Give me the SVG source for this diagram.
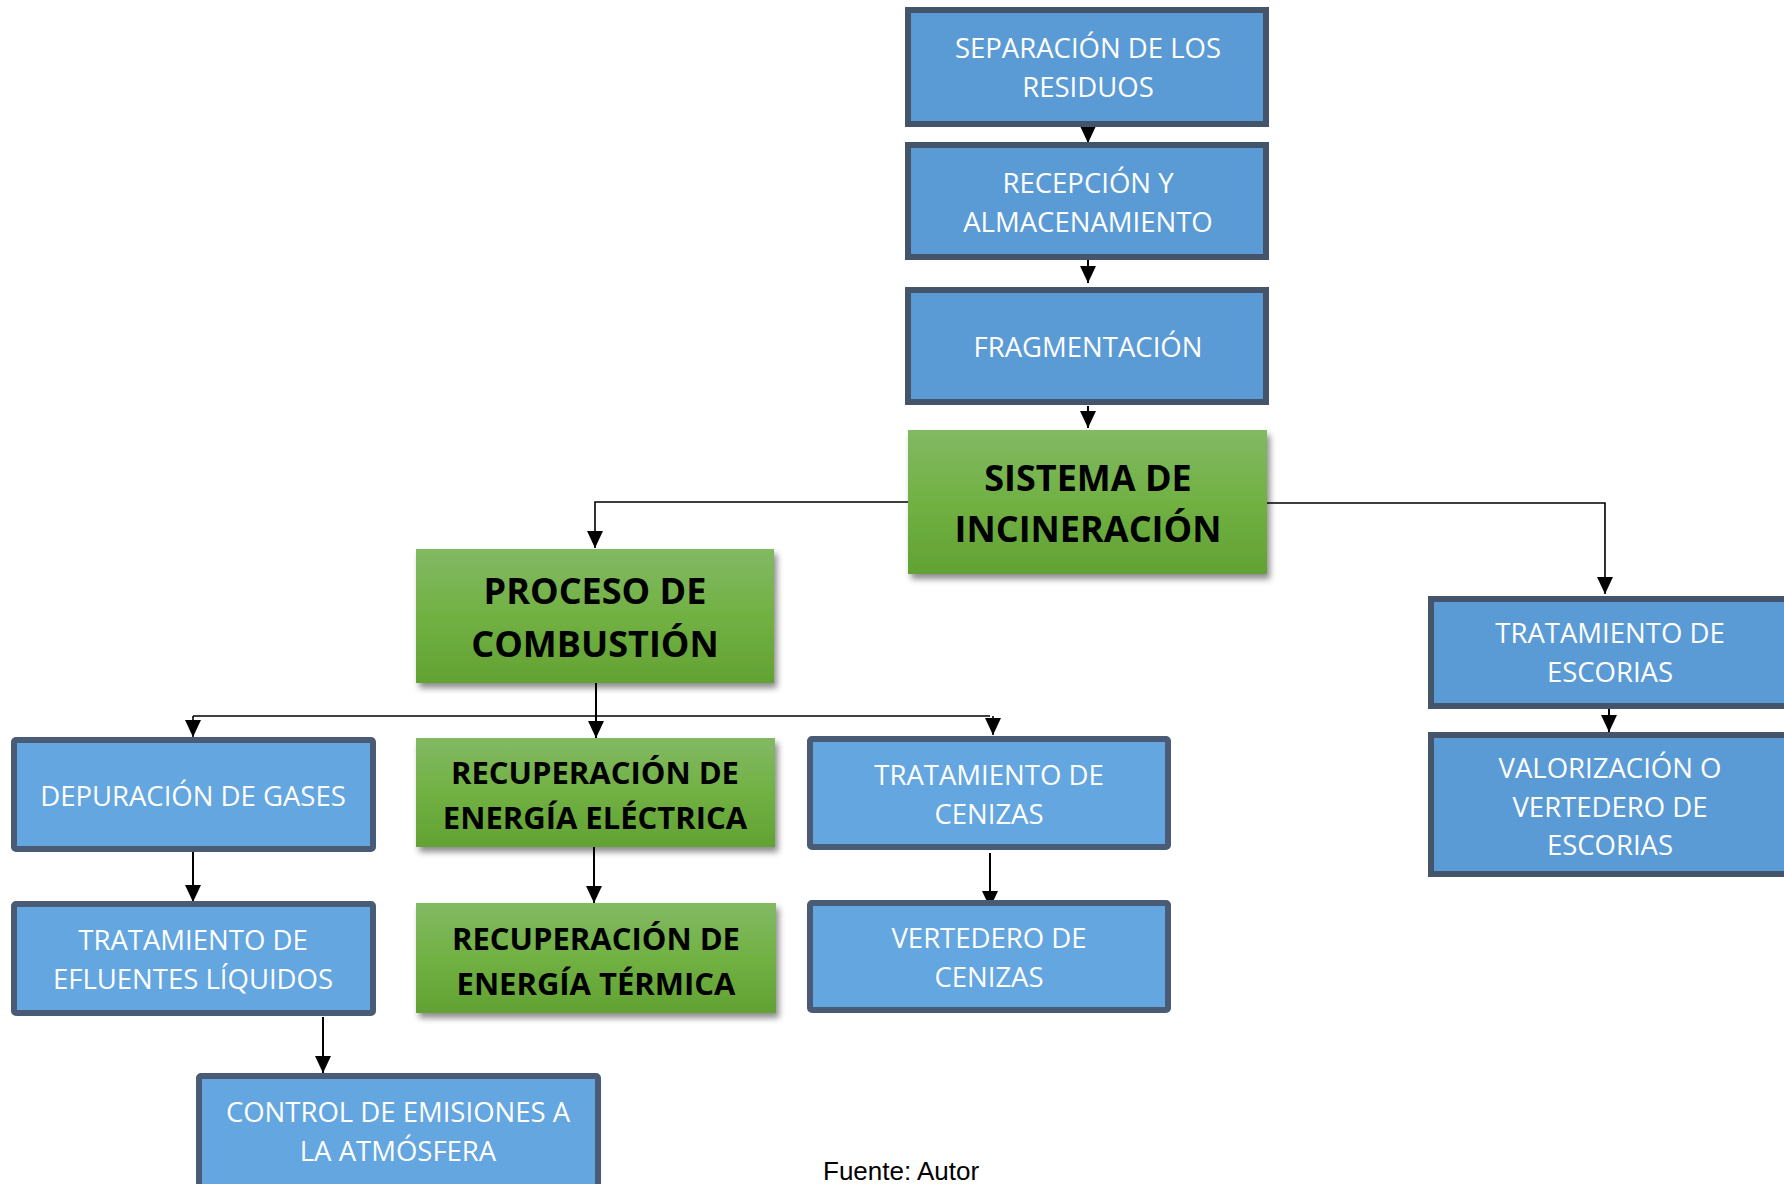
<svg xmlns="http://www.w3.org/2000/svg" width="1784" height="1184" viewBox="0 0 1784 1184">
<defs>
<linearGradient id="g" x1="0" y1="0" x2="0" y2="1">
<stop offset="0" stop-color="#82b964"/>
<stop offset="0.5" stop-color="#71b143"/>
<stop offset="1" stop-color="#62a233"/>
</linearGradient>
<filter id="sh" x="-10%" y="-10%" width="125%" height="130%">
<feDropShadow dx="3" dy="5" stdDeviation="3" flood-color="#000" flood-opacity="0.45"/>
</filter>
<marker id="ar" markerUnits="userSpaceOnUse" markerWidth="18" markerHeight="16" refX="17" refY="8" orient="auto" viewBox="0 0 18 16">
<path d="M0 0 L17 8 L0 16 Z" fill="#000"/>
</marker>
</defs>
<style>
.b1{fill:#5b9bd5;stroke:#44546a;stroke-width:6}
.b2{fill:#64a6e0;stroke:#4a5b75;stroke-width:6;stroke-linejoin:round}
.gr{fill:url(#g);filter:url(#sh)}
.t{font-family:"Open Sans","Noto Sans",sans-serif;font-size:27.5px;fill:#fff;text-anchor:middle}
.tb{font-family:"Open Sans","Noto Sans",sans-serif;font-weight:bold;font-size:36px;fill:#000;text-anchor:middle}
.tb2{font-family:"Open Sans","Noto Sans",sans-serif;font-weight:bold;font-size:31px;fill:#000;text-anchor:middle}
.c{fill:none;stroke:#000;stroke-width:2}
.c1{fill:none;stroke:#000;stroke-width:1.6}
.f{font-family:"Liberation Sans",Arial,sans-serif;font-size:26px;fill:#000}
</style>
<g id="connectors">
<path class="c" d="M1088 127 V143" marker-end="url(#ar)"/>
<path class="c" d="M1088 260 V283" marker-end="url(#ar)"/>
<path class="c" d="M1088 406 V428" marker-end="url(#ar)"/>
<path class="c1" d="M908 502 H595 V548" marker-end="url(#ar)"/>
<path class="c1" d="M1262 503 H1605 V594" marker-end="url(#ar)"/>
<path class="c" d="M1609 709 V732" marker-end="url(#ar)"/>
<path class="c" d="M596 683 V738" marker-end="url(#ar)"/>
<path class="c1" d="M193 716 H990"/>
<path class="c1" d="M193 716 V737" marker-end="url(#ar)"/>
<path class="c1" d="M993 716 V735" marker-end="url(#ar)"/>
<path class="c" d="M193 852 V902" marker-end="url(#ar)"/>
<path class="c" d="M323 1017 V1073" marker-end="url(#ar)"/>
<path class="c" d="M594 847 V903" marker-end="url(#ar)"/>
<path class="c" d="M990 853 V908" marker-end="url(#ar)"/>
</g>
<g id="separacion">
<rect class="b1" x="908" y="10" width="358" height="114"/>
<text class="t" x="1088" y="58">SEPARACIÓN DE LOS</text>
<text class="t" x="1088" y="97">RESIDUOS</text>
</g>
<g id="recepcion">
<rect class="b1" x="908" y="145" width="358" height="112"/>
<text class="t" x="1088" y="193">RECEPCIÓN Y</text>
<text class="t" x="1088" y="232">ALMACENAMIENTO</text>
</g>
<g id="fragmentacion">
<rect class="b1" x="908" y="290" width="358" height="112"/>
<text class="t" x="1088" y="357">FRAGMENTACIÓN</text>
</g>
<g id="sistema">
<rect class="gr" x="908" y="430" width="359" height="144"/>
<text class="tb" x="1088" y="491">SISTEMA DE</text>
<text class="tb" x="1088" y="542">INCINERACIÓN</text>
</g>
<g id="proceso">
<rect class="gr" x="416" y="549" width="358" height="134"/>
<text class="tb" x="595" y="604">PROCESO DE</text>
<text class="tb" x="595" y="657">COMBUSTIÓN</text>
</g>
<g id="escorias">
<rect class="b1" x="1431" y="599" width="358" height="107"/>
<text class="t" x="1610" y="643">TRATAMIENTO DE</text>
<text class="t" x="1610" y="682">ESCORIAS</text>
</g>
<g id="valorizacion">
<rect class="b1" x="1431" y="735" width="358" height="139"/>
<text class="t" x="1610" y="778">VALORIZACIÓN O</text>
<text class="t" x="1610" y="817">VERTEDERO DE</text>
<text class="t" x="1610" y="855">ESCORIAS</text>
</g>
<g id="depuracion">
<rect class="b2" x="14" y="740" width="359" height="109" rx="2"/>
<text class="t" x="193" y="806">DEPURACIÓN DE GASES</text>
</g>
<g id="efluentes">
<rect class="b2" x="14" y="904" width="359" height="109" rx="2"/>
<text class="t" x="193" y="950">TRATAMIENTO DE</text>
<text class="t" x="193" y="989">EFLUENTES LÍQUIDOS</text>
</g>
<g id="control">
<rect class="b2" x="199" y="1076" width="399" height="130" rx="2"/>
<text class="t" x="398" y="1122">CONTROL DE EMISIONES A</text>
<text class="t" x="398" y="1161">LA ATMÓSFERA</text>
</g>
<g id="electrica">
<rect class="gr" x="416" y="738" width="359" height="109"/>
<text class="tb2" x="595" y="784">RECUPERACIÓN DE</text>
<text class="tb2" x="595" y="829">ENERGÍA ELÉCTRICA</text>
</g>
<g id="termica">
<rect class="gr" x="416" y="903" width="360" height="110"/>
<text class="tb2" x="596" y="950">RECUPERACIÓN DE</text>
<text class="tb2" x="596" y="995">ENERGÍA TÉRMICA</text>
</g>
<g id="cenizas">
<rect class="b2" x="810" y="739" width="358" height="108" rx="2"/>
<text class="t" x="989" y="785">TRATAMIENTO DE</text>
<text class="t" x="989" y="824">CENIZAS</text>
</g>
<g id="vertedero">
<rect class="b2" x="810" y="903" width="358" height="107" rx="2"/>
<text class="t" x="989" y="948">VERTEDERO DE</text>
<text class="t" x="989" y="987">CENIZAS</text>
</g>
<text class="f" x="823" y="1180">Fuente: Autor</text>
</svg>
